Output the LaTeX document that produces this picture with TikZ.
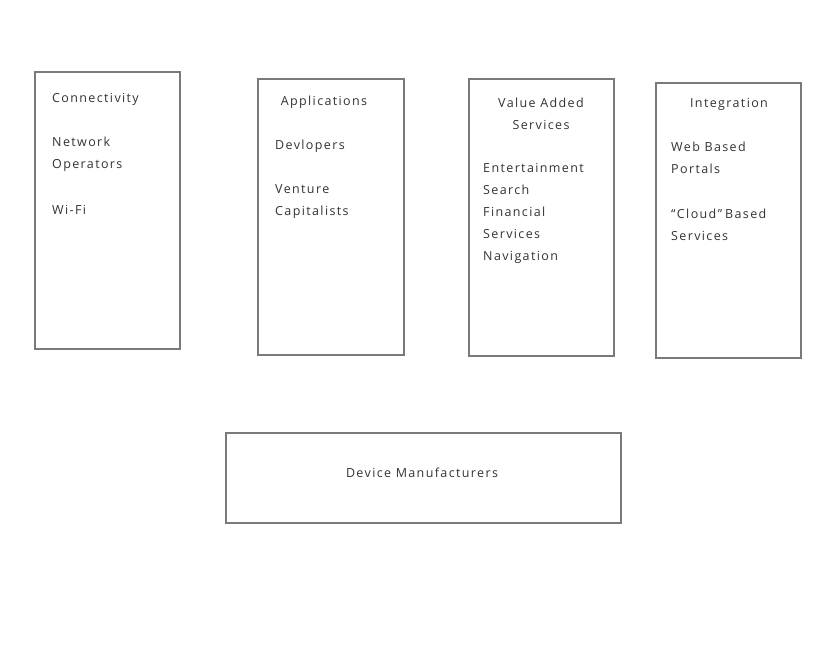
\documentclass[tikz,border=0pt]{standalone}
\usepackage{fontspec}
\setmainfont{Open Sans}[LetterSpace=11]
\definecolor{boxline}{HTML}{7A7A7A}
\definecolor{txt}{HTML}{333333}
\begin{document}
\begin{tikzpicture}[x=1pt,y=-1pt,
  panel/.style={draw=boxline,line width=1.4pt},
  lbl/.style={inner sep=0pt,text=txt,font=\fontsize{12.5}{22}\selectfont,anchor=north west,align=left},
  ttl/.style={inner sep=0pt,text=txt,font=\fontsize{12.5}{22}\selectfont,anchor=north,align=center}]
\useasboundingbox (0,0) rectangle (822,670);
\fill[white] (0,0) rectangle (822,670);
% boxes
\draw[panel] (35,72) rectangle (180,349);
\draw[panel] (258,79) rectangle (404,355);
\draw[panel] (469,79) rectangle (614,356);
\draw[panel] (656,83) rectangle (801,358);
\draw[panel] (226,433) rectangle (621,523);
% texts
\node[lbl] (t1) at (52,93.5) {Connectivity\\[22pt]Network\\Operators\\[24pt]Wi-Fi};
\node[ttl] (t2a) at (324,95.5) {Applications};
\node[lbl] (t2b) at (275,139.5) {Devlopers\\[22pt]Venture\\Capitalists};
\node[ttl] (t3a) at (541,97.5) {Value Added\\Services};
\node[lbl] (t3b) at (483,163.5) {Entertainment\\Search\\Financial\\Services\\Navigation};
\node[ttl] (t4a) at (729,98.5) {Integration};
\node[lbl] (t4b) at (671,141.5) {Web Based\\Portals\\[23pt]``Cloud''\hspace{3pt}Based\\Services};
\node[inner sep=0pt,text=txt,font=\fontsize{12.5}{22}\selectfont] (t5) at (422,473) {Device Manufacturers};
\end{tikzpicture}
\end{document}
